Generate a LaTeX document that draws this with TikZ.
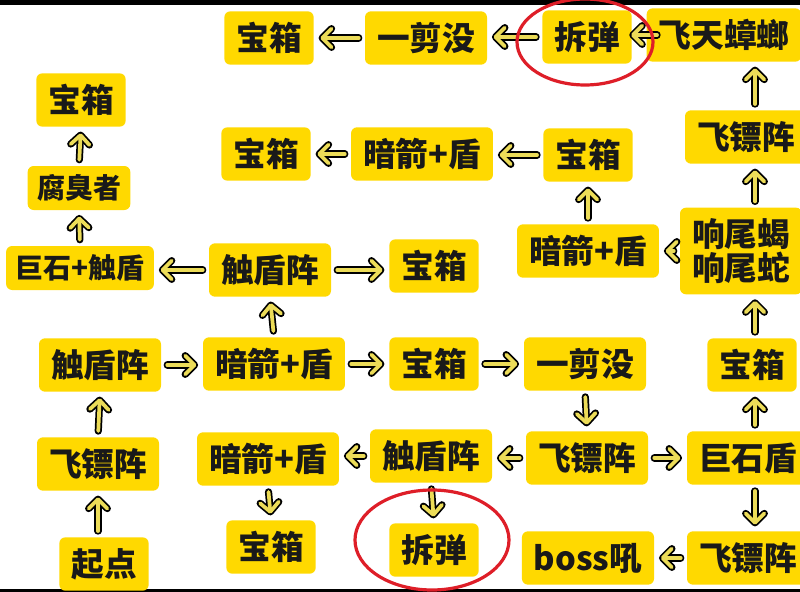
\documentclass[tikz,border=0pt]{standalone}
\usepackage{fontspec}
\usepackage{tikz}
\usetikzlibrary{arrows.meta}
\newfontfamily\cjk{Noto Sans CJK SC}
\definecolor{boxyellow}{RGB}{255,217,0}
\definecolor{arrowfill}{RGB}{236,220,88}
\definecolor{ringred}{RGB}{222,30,40}
\tikzset{
  room/.style={fill=boxyellow, rounded corners=4.5pt, inner xsep=9pt, inner ysep=0pt,
    minimum height=40pt, text=black!90, font=\cjk\bfseries\fontsize{24.5}{26}\selectfont},
  roomsmall/.style={room, inner xsep=7pt, minimum height=33pt,
    font=\cjk\bfseries\fontsize{21}{24}\selectfont},
  flow/.style={draw=black, line width=5.4pt, line cap=round, shorten <=4.5pt, shorten >=3.5pt,
    -{Straight Barb[length=7pt,width=14pt,round]},
    postaction={draw=arrowfill, line width=2.8pt, shorten >=4.8pt,
      -{Straight Barb[length=7pt,width=14pt,round]}}},
  redring/.style={draw=ringred, line width=2.4pt}
}
\begin{document}
\begin{tikzpicture}[x=0.75pt,y=0.75pt,yscale=-1,xscale=1]
\path[use as bounding box] (0,0) rectangle (800,592);
\clip (0,0) rectangle (800,592);

%Frame bars
\fill[black] (0,0) rectangle (800,5);
\fill[black] (0,589) rectangle (800,592);

% Top row
\node[room] (chestA) at (269,38) {宝箱};
\node[room] (snipA) at (426,38) {一剪没};
\node[room] (defuseA) at (587,37) {拆弹};
\node[room] (roach) at (724,35) {飞天蟑螂};
% Left column
\node[room] (chestL) at (81,100) {宝箱};
\node[roomsmall] (stinker) at (79,188) {腐臭者};
\node[roomsmall] (boulderL) at (80,268) {巨石+触盾};
% Second row
\node[room] (chestB) at (266,154) {宝箱};
\node[room] (dartsB) at (422,154) {暗箭+盾};
\node[room] (chestC) at (588,155) {宝箱};
\node[room] (shurikenA) at (746,137) {飞镖阵};
% Third row
\node[room] (shieldM) at (270,270) {触盾阵};
\node[room] (chestM) at (434,266) {宝箱};
\node[room] (dartsC) at (588,251) {暗箭+盾};
\node[room, align=center, minimum height=65pt] (rattle) at (741,251) {响尾蝎\\响尾蛇};
% Fourth row
\node[room] (shieldL) at (100,365) {触盾阵};
\node[room] (dartsD) at (274,364) {暗箭+盾};
\node[room] (chestD) at (434,364) {宝箱};
\node[room] (snipB) at (585,364) {一剪没};
\node[room] (chestR) at (752,365) {宝箱};
% Fifth row
\node[room] (shurikenL) at (98,464) {飞镖阵};
\node[room] (dartsE) at (268,459) {暗箭+盾};
\node[room] (shieldB) at (431,456) {触盾阵};
\node[room] (shurikenB) at (587,458) {飞镖阵};
\node[room] (boulder) at (748,458) {巨石盾};
% Bottom row
\node[room] (start) at (104,564) {起点};
\node[room] (chestE) at (271,547) {宝箱};
\node[room] (defuseB) at (434,550) {拆弹};
\node[room] (boss) at (588,558) {boss吼};
\node[room] (shurikenC) at (748,558) {飞镖阵};

\coordinate (colR) at (755,0);

% Connectors
\draw[flow] (start.north -| shurikenL) -- (shurikenL.south);
\draw[flow] (shurikenL.north) -- (shieldL.south);
\draw[flow] (shieldL.east) -- (dartsD.west |- shieldL.east);
\draw[flow] (dartsD.north) -- (shieldM.south);
\draw[flow] (shieldM.west) -- (boulderL.east |- shieldM.west);
\draw[flow] (boulderL.north) -- (stinker.south);
\draw[flow] (stinker.north) -- (chestL.south);
\draw[flow] (shieldM.east) -- (chestM.west |- shieldM.east);
\draw[flow] (dartsD.east) -- (chestD.west |- dartsD.east);
\draw[flow] (chestD.east) -- (snipB.west |- chestD.east);
\draw[flow] (snipB.south) -- (shurikenB.north);
\draw[flow] (shurikenB.west) -- (shieldB.east |- shurikenB.west);
\draw[flow] (shieldB.west) -- (dartsE.east |- shieldB.west);
\draw[flow] (dartsE.south) -- (chestE.north);
\draw[flow] (shieldB.south) -- (defuseB.north);
\draw[flow] (shurikenB.east) -- (boulder.west |- shurikenB.east);
\draw[flow] (boulder.south -| colR) -- (shurikenC.north -| colR);
\draw[flow] (shurikenC.west) -- (boss.east |- shurikenC.west);
\draw[flow] (boulder.north -| colR) -- (chestR.south -| colR);
\draw[flow] (chestR.north -| colR) -- (rattle.south -| colR);
\draw[flow] (rattle.west) -- (dartsC.east |- rattle.west);
\draw[flow] (dartsC.north) -- (chestC.south);
\draw[flow] (chestC.west) -- (dartsB.east |- chestC.west);
\draw[flow] (dartsB.west) -- (chestB.east |- dartsB.west);
\draw[flow] (rattle.north -| colR) -- (shurikenA.south -| colR);
\draw[flow] (shurikenA.north -| colR) -- (roach.south -| colR);
\draw[flow] ([xshift=12.5pt]roach.west) -- ([xshift=-5.5pt]defuseA.east |- roach.west);
\draw[flow] (defuseA.west) -- (snipA.east |- defuseA.west);
\draw[flow] (snipA.west) -- (chestA.east |- snipA.west);

%Marks round the two defuse rooms
\draw[redring] (585,42) ellipse [x radius=68, y radius=43];
\draw[redring] (432,540) ellipse [x radius=77, y radius=50];
\end{tikzpicture}
\end{document}
